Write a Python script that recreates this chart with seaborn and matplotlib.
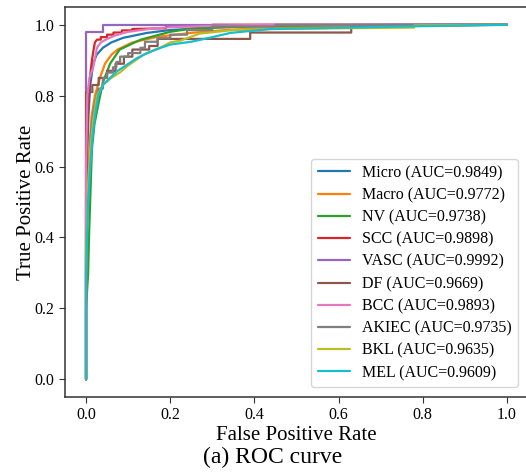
import numpy as np
import pandas as pd
import matplotlib
matplotlib.use("Agg")
import matplotlib.pyplot as plt
import seaborn as sns

labels = ["Micro", "Macro", "NV", "SCC", "VASC", "DF", "BCC", "AKIEC", "BKL", "MEL"]
aucs = ["0.9849", "0.9772", "0.9738", "0.9898", "0.9992", "0.9669", "0.9893", "0.9735", "0.9635", "0.9609"]

micro_fpr = [0, 0, 0.003, 0.006, 0.01, 0.017, 0.025, 0.04, 0.06, 0.088, 0.145, 0.2, 0.3, 0.45, 0.6, 1]
micro_tpr = [0, 0.4, 0.65, 0.75, 0.83, 0.89, 0.915, 0.935, 0.95, 0.963, 0.977, 0.985, 0.992, 0.997, 0.999, 1]

macro_fpr = [0, 0, 0.003, 0.008, 0.013, 0.021, 0.033, 0.045, 0.06, 0.075, 0.11, 0.17, 0.25, 0.34, 0.5, 0.7, 1]
macro_tpr = [0, 0.3, 0.5, 0.65, 0.74, 0.80, 0.85, 0.89, 0.915, 0.93, 0.95, 0.966, 0.977, 0.986, 0.993, 0.997, 1]

nv_fpr = [0, 0, 0.005, 0.007, 0.01, 0.014, 0.02, 0.03, 0.04, 0.057, 0.08, 0.13, 0.2, 0.255, 0.4, 0.6, 1]
nv_tpr = [0, 0.2, 0.3, 0.4, 0.51, 0.65, 0.72, 0.78, 0.837, 0.89, 0.93, 0.958, 0.98, 0.99, 0.996, 0.999, 1]

scc_fpr = [0, 0, 0.003, 0.006, 0.01, 0.014, 0.018, 0.021, 0.026, 0.035, 0.035, 0.05, 0.05, 0.065, 0.065,
           0.085, 0.085, 0.11, 0.11, 0.19, 0.19, 0.3, 0.3, 1]
scc_tpr = [0, 0.5, 0.7, 0.8, 0.86, 0.9, 0.93, 0.95, 0.958, 0.958, 0.965, 0.965, 0.972, 0.972, 0.978,
           0.978, 0.984, 0.984, 0.988, 0.99, 0.995, 0.997, 1.0, 1]

vasc_fpr = [0, 0, 0.04, 0.04, 1]
vasc_tpr = [0, 0.98, 0.98, 1.0, 1]

df_fpr = [0, 0, 0.015, 0.015, 0.03, 0.03, 0.05, 0.05, 0.07, 0.07, 0.09, 0.09, 0.11, 0.11, 0.15, 0.15,
          0.17, 0.17, 0.39, 0.39, 0.63, 0.63, 1]
df_tpr = [0, 0.81, 0.81, 0.83, 0.83, 0.85, 0.85, 0.87, 0.87, 0.89, 0.89, 0.91, 0.91, 0.93, 0.93, 0.94,
          0.94, 0.96, 0.96, 0.978, 0.978, 0.995, 1]

bcc_fpr = [0, 0, 0.003, 0.008, 0.017, 0.022, 0.026, 0.035, 0.05, 0.07, 0.1, 0.15, 0.2, 0.3, 0.45, 1]
bcc_tpr = [0, 0.6, 0.8, 0.85, 0.88, 0.91, 0.935, 0.95, 0.96, 0.97, 0.98, 0.988, 0.993, 0.997, 1.0, 1]

akiec_fpr = [0, 0, 0.004, 0.008, 0.012, 0.018, 0.025, 0.03, 0.04, 0.04, 0.05, 0.05, 0.064, 0.064, 0.072,
             0.072, 0.081, 0.081, 0.1, 0.1, 0.129, 0.129, 0.14, 0.14, 0.17, 0.17, 0.2, 0.2, 0.24, 0.24,
             0.3, 0.3, 0.45, 0.45, 1]
akiec_tpr = [0, 0.35, 0.5, 0.62, 0.7, 0.76, 0.8, 0.82, 0.82, 0.85, 0.85, 0.865, 0.865, 0.88, 0.88,
             0.895, 0.895, 0.91, 0.91, 0.92, 0.92, 0.935, 0.935, 0.952, 0.952, 0.962, 0.962, 0.972, 0.972,
             0.985, 0.985, 0.995, 0.995, 1.0, 1]

bkl_fpr = [0, 0, 0.005, 0.01, 0.017, 0.026, 0.04, 0.06, 0.08, 0.1, 0.136, 0.176, 0.2, 0.224, 0.27, 0.35,
           0.45, 0.6, 0.78, 0.78, 1]
bkl_tpr = [0, 0.35, 0.55, 0.65, 0.73, 0.80, 0.83, 0.85, 0.865, 0.885, 0.915, 0.935, 0.95, 0.955, 0.975,
           0.985, 0.988, 0.99, 0.992, 0.998, 1]

mel_fpr = [0, 0, 0.005, 0.01, 0.015, 0.022, 0.029, 0.04, 0.057, 0.075, 0.097, 0.12, 0.145, 0.17, 0.2,
           0.25, 0.3, 0.343, 0.44, 0.55, 0.7, 0.85, 1]
mel_tpr = [0, 0.3, 0.5, 0.6, 0.68, 0.75, 0.80, 0.83, 0.85, 0.87, 0.887, 0.905, 0.92, 0.932, 0.944,
           0.952, 0.965, 0.977, 0.988, 0.99, 0.994, 0.997, 1]

curves = [(micro_fpr, micro_tpr), (macro_fpr, macro_tpr), (nv_fpr, nv_tpr), (scc_fpr, scc_tpr),
          (vasc_fpr, vasc_tpr), (df_fpr, df_tpr), (bcc_fpr, bcc_tpr), (akiec_fpr, akiec_tpr),
          (bkl_fpr, bkl_tpr), (mel_fpr, mel_tpr)]

sns.set_style("ticks")
plt.rcParams["font.family"] = ["Liberation Serif", "DejaVu Serif"]
plt.rcParams["text.color"] = "black"
plt.rcParams["axes.labelcolor"] = "black"
plt.rcParams["xtick.color"] = "black"
plt.rcParams["ytick.color"] = "black"

fig = plt.figure(figsize=(5.26, 4.72), dpi=100)
ax = fig.add_axes([65 / 526, 75 / 472, (528 - 65) / 526, (397 - 7) / 472])

palette = sns.color_palette("tab10", 10)
for i, (name, auc, (fx, ty)) in enumerate(zip(labels, aucs, curves)):
    d = pd.DataFrame({"fpr": fx, "tpr": ty})
    sns.lineplot(data=d, x="fpr", y="tpr", sort=False, estimator=None, ax=ax,
                 color=palette[i], linewidth=1.6, label=f"{name} (AUC={auc})")

ax.set_xlim(-0.05, 1.05)
ax.set_ylim(-0.05, 1.05)
ax.set_xticks([0, 0.2, 0.4, 0.6, 0.8, 1.0])
ax.set_yticks([0, 0.2, 0.4, 0.6, 0.8, 1.0])
ax.set_xticklabels(["0.0", "0.2", "0.4", "0.6", "0.8", "1.0"])
ax.set_yticklabels(["0.0", "0.2", "0.4", "0.6", "0.8", "1.0"])
ax.tick_params(labelsize=11.5, length=4, color="#333333")
ax.set_xlabel("False Positive Rate", fontsize=15, labelpad=2)
ax.set_ylabel("True Positive Rate", fontsize=15, labelpad=-1)
for s in ["left", "bottom", "top"]:
    ax.spines[s].set_color("#333333")
    ax.spines[s].set_linewidth(1.1)
ax.spines["right"].set_visible(False)

leg = ax.legend(loc="lower right", fontsize=11.5, frameon=True, fancybox=True,
                handlelength=2.0, borderaxespad=0.6, labelspacing=0.39)
leg.get_frame().set_edgecolor("#cccccc")

fig.text(0.518, 0.03, "(a) ROC curve", ha="center", va="center", fontsize=17)

fig.savefig("out.png", dpi=100)
